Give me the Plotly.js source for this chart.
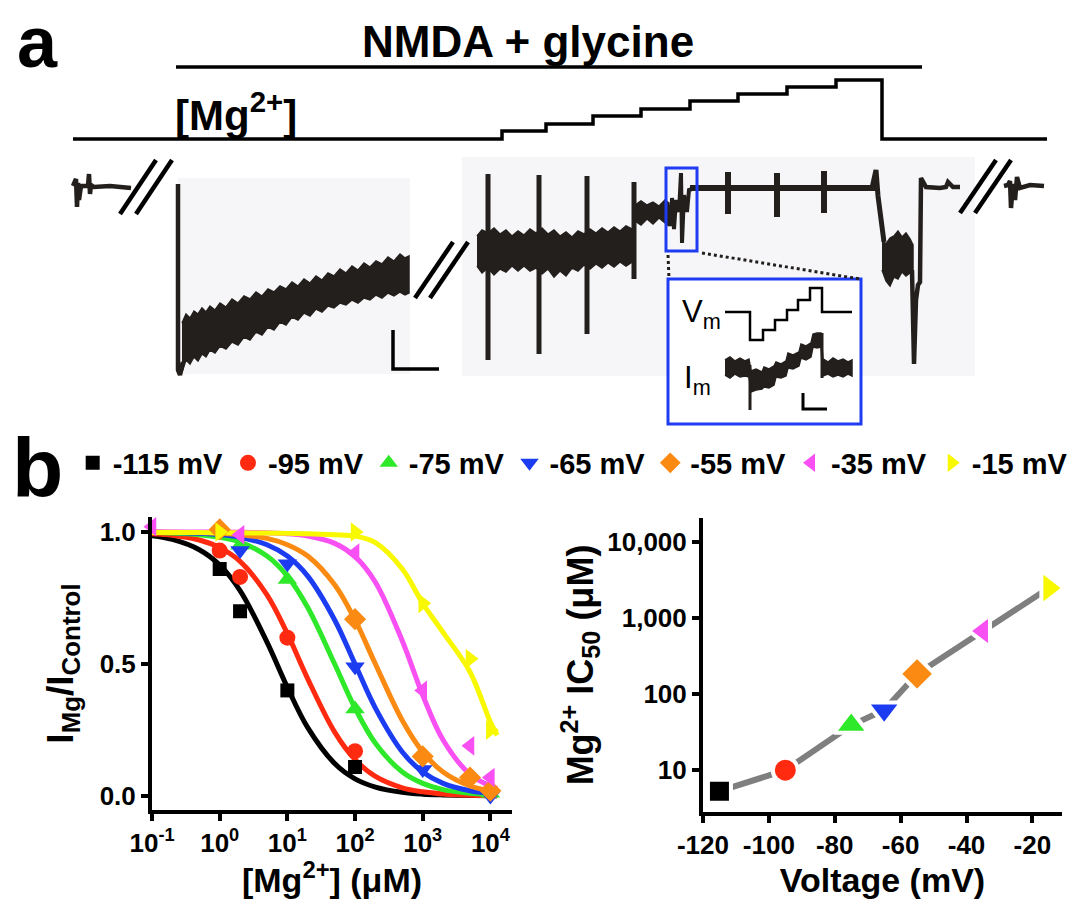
<!DOCTYPE html>
<html><head><meta charset="utf-8">
<script src="https://cdn.plot.ly/plotly-3.0.1.min.js"></script>
<style>html,body{margin:0;padding:0;background:#fff}#chart{width:1069px;height:899px}</style>
</head><body><div id="chart"></div>
<script>
// ---------------- Panel b, left: concentration-response ----------------
const seriesNames = ['-115 mV', '-95 mV', '-75 mV', '-65 mV', '-55 mV', '-35 mV', '-15 mV'];
const seriesColors = ['#000000', '#ff2a10', '#2ee82a', '#1c3cf2', '#fa8a12', '#f850f2', '#f8f800'];
const seriesSymbols = ['square', 'circle', 'triangle-up', 'triangle-down', 'diamond', 'triangle-left', 'triangle-right'];

const concM115 = [1, 2, 10, 100];
const respM115 = [0.86, 0.70, 0.40, 0.11];
const concM95 = [1, 2, 10, 100];
const respM95 = [0.93, 0.83, 0.60, 0.17];
const concM75 = [2, 10, 100, 10000];
const respM75 = [0.95, 0.82, 0.33, 0.01];
const concM65 = [2, 10, 100, 1000, 10000];
const respM65 = [0.93, 0.88, 0.49, 0.10, 0.0];
const concM55 = [1, 100, 1000, 5000, 10000];
const respM55 = [1.01, 0.67, 0.15, 0.07, 0.02];
const concM35 = [0.1, 2, 100, 1000, 5000, 10000];
const respM35 = [1.02, 0.99, 0.92, 0.40, 0.19, 0.07];
const concM15 = [1, 100, 1000, 5000, 10000];
const respM15 = [1.0, 1.0, 0.73, 0.52, 0.25];

const fitConc = [0.1, 0.2, 0.5, 1, 2, 5, 10, 20, 50, 100, 200, 500, 1000, 2000, 5000, 10000, 12600];
const fitM115 = [0.986, 0.972, 0.933, 0.875, 0.778, 0.583, 0.412, 0.259, 0.123, 0.065, 0.034, 0.014, 0.007, 0.004, 0.002, 0.001, 0.001];
const fitM95  = [0.994, 0.988, 0.970, 0.941, 0.889, 0.762, 0.615, 0.444, 0.242, 0.138, 0.074, 0.031, 0.016, 0.008, 0.003, 0.002, 0.001];
const fitM75  = [0.998, 0.996, 0.990, 0.980, 0.962, 0.909, 0.833, 0.714, 0.500, 0.333, 0.200, 0.091, 0.048, 0.024, 0.010, 0.005, 0.004];
const fitM65  = [0.999, 0.998, 0.995, 0.990, 0.980, 0.952, 0.909, 0.833, 0.667, 0.500, 0.333, 0.167, 0.091, 0.048, 0.020, 0.010, 0.008];
const fitM55  = [1.000, 0.999, 0.998, 0.995, 0.990, 0.976, 0.952, 0.909, 0.800, 0.667, 0.500, 0.286, 0.167, 0.091, 0.038, 0.020, 0.016];
const fitM35  = [1.000, 1.000, 1.000, 1.000, 0.999, 0.997, 0.994, 0.985, 0.957, 0.907, 0.810, 0.587, 0.382, 0.212, 0.082, 0.038, 0.029];
const fitM15  = [0.998, 0.998, 0.998, 0.997, 0.997, 0.996, 0.995, 0.994, 0.990, 0.985, 0.960, 0.860, 0.730, 0.620, 0.470, 0.280, 0.230];

const concTickVals = [0.1, 1, 10, 100, 1000, 10000];
const concTickText = ['10<sup>-1</sup>', '10<sup>0</sup>', '10<sup>1</sup>', '10<sup>2</sup>', '10<sup>3</sup>', '10<sup>4</sup>'];
const respTickVals = [0, 0.5, 1];
const respTickText = ['0.0', '0.5', '1.0'];

// ---------------- Panel b, right: IC50 vs voltage ----------------
const voltages = [-115, -95, -75, -65, -55, -35, -15];
const ic50 = [5.3, 10, 39, 62, 185, 680, 2500];
const voltTickVals = [-120, -100, -80, -60, -40, -20];
const voltTickText = ['-120', '-100', '-80', '-60', '-40', '-20'];
const icTickVals = [10, 100, 1000, 10000];
const icTickText = ['10', '100', '1,000', '10,000'];

// ---------------- Panel a: schematic recording (figure units) ----------------
const nmdaBarX = [176, 922];
const nmdaBarY = [67, 67];
const mgStepX = [73, 502, 546, 593, 641, 690, 738, 787, 836, 882, 1047];
const mgStepY = [139, 131, 124, 116, 109, 101, 94, 87, 80, 139, 139];

const preStubX = [73, 76, 77, 78, 79, 81, 88, 89, 90, 91, 94, 110, 131];
const preStubY = [186, 179, 207, 183, 200, 186, 186, 174, 194, 185, 187, 186, 188];
const postStubX = [1004, 1008, 1010, 1011, 1013, 1015, 1017, 1020, 1030, 1044];
const postStubY = [186, 185, 181, 208, 184, 200, 177, 188, 185, 186];

const slashX1 = [120, 156, null, 136, 172];
const slashY1 = [214, 160, null, 214, 160];
const slashX2 = [415, 453, null, 430, 468];
const slashY2 = [298, 242, null, 298, 242];
const slashX3 = [960, 996, null, 975, 1011];
const slashY3 = [213, 160, null, 213, 160];

const dropX = [178, 178, 180, 183];
const dropY = [184, 370, 375, 362];
const band0X = [182,186,190,194,198,202,206,210,215,220,226,232,238,244,250,256,262,268,274,280,286,292,298,304,310,316,322,328,334,340,346,352,358,364,370,376,382,388,394,400,405,409];
const band0Up = [323,314,318,311,314,308,312,306,310,303,307,299,303,296,299,292,296,289,292,286,289,282,286,279,283,276,280,273,276,269,273,266,270,263,267,261,264,257,261,254,258,256];
const band0Lo = [372,360,364,357,361,354,357,350,353,346,349,342,345,337,340,332,335,327,330,322,325,317,320,313,316,309,312,306,308,303,305,300,303,298,300,295,298,293,296,292,295,293];

const band1X = [477,482,488,494,500,506,512,518,524,530,536,542,548,554,560,566,572,578,584,590,596,602,608,614,620,626,632];
const band1Up = [236,230,233,228,234,230,236,231,235,229,233,228,234,230,236,232,237,231,234,229,233,228,232,227,231,226,229];
const band1Lo = [266,273,268,275,269,272,266,271,266,271,268,274,269,277,271,276,268,271,265,269,264,268,263,267,262,266,262];
const band2X = [635, 641, 647, 653, 659, 665, 669];
const band2Up = [205, 201, 205, 202, 206, 200, 203];
const band2Lo = [221, 225, 219, 224, 218, 223, 226];
const bigSpikeX = [488, 539, 587, 634];
const bigSpikeTop = [174, 175, 176, 182];
const bigSpikeBottom = [360, 354, 334, 279];
const boxTraceX = [668, 671, 672, 674, 676, 679, 681, 682, 684, 687, 689, 692, 700];
const boxTraceY = [205, 226, 198, 229, 200, 212, 173, 243, 195, 212, 190, 189, 188];
const flatX = [690, 877];
const flatY = [188, 188];
const smallSpikeX = [728, 777, 824];
const smallSpikeTop = [172, 173, 171];
const smallSpikeBottom = [214, 217, 213];
const washX = [872, 876, 878, 882, 884];
const washY = [188, 170, 196, 232, 242];
const band3X = [882, 886, 890, 894, 898, 902, 906, 910, 913];
const band3Up = [240, 244, 238, 236, 231, 237, 233, 239, 245];
const band3Lo = [270, 281, 286, 277, 279, 272, 276, 273, 272];
const recoverX = [912, 914, 916, 918, 920, 921, 926, 940, 946, 948, 950, 953, 960];
const recoverY = [270, 364, 300, 285, 282, 178, 187, 188, 187, 182, 184, 187, 187];

const vmX = [725, 750, 763, 775, 787, 798, 810, 822, 852];
const vmY = [312, 340, 330, 320, 310, 300, 288, 312, 312];
const imX = [725,730,735,740,745,749,751,756,762,764,769,774,776,781,786,788,793,799,801,806,811,813,817,821,823,828,833,838,843,848,852];
const imUp = [360,357,361,358,361,359,371,369,372,367,369,366,362,364,361,353,355,352,344,346,343,334,333,333,359,362,358,361,359,362,360];
const imLo = [375,378,374,377,376,377,392,390,389,387,388,385,377,378,376,368,369,366,358,360,357,347,348,347,376,374,377,375,377,374,376];
const imSpikeX = [750, 750, null, 822, 822];
const imSpikeY = [365, 410, null, 333, 378];

// ---------------- build traces ----------------
const TR = '#231f1c';
const FONT = 'Liberation Sans, Arial, Helvetica, sans-serif';
const traces = [];

function aLine(x, y, w, color, shape) {
  traces.push({type: 'scatter', mode: 'lines', x: x, y: y, xaxis: 'x3', yaxis: 'y3',
    line: {color: color || TR, width: w, shape: shape || 'linear'}, hoverinfo: 'skip', showlegend: false, connectgaps: false});
}
function aBand(x, up, lo) {
  traces.push({type: 'scatter', mode: 'lines', x: x.concat(x.slice().reverse()), y: up.concat(lo.slice().reverse()),
    xaxis: 'x3', yaxis: 'y3', fill: 'toself', fillcolor: TR, line: {color: TR, width: 1.5}, hoverinfo: 'skip', showlegend: false});
}
function aSegs(xs, tops, bottoms, w) {
  const x = [], y = [];
  xs.forEach((v, i) => { x.push(v, v, null); y.push(tops[i], bottoms[i], null); });
  aLine(x, y, w);
}

aLine(nmdaBarX, nmdaBarY, 3.5, '#000');
aLine(mgStepX, mgStepY, 3.5, '#000', 'hv');
aLine(preStubX, preStubY, 4.5);
aLine(postStubX, postStubY, 4.5);
aLine(slashX1, slashY1, 4.5, '#000');
aLine(slashX2, slashY2, 4.5, '#000');
aLine(slashX3, slashY3, 4.5, '#000');
aLine(dropX, dropY, 4.5);
aBand(band0X, band0Up, band0Lo);
aBand(band1X, band1Up, band1Lo);
aBand(band2X, band2Up, band2Lo);
aSegs(bigSpikeX, bigSpikeTop, bigSpikeBottom, 5);
aLine(boxTraceX, boxTraceY, 4);
aLine(flatX, flatY, 6);
aSegs(smallSpikeX, smallSpikeTop, smallSpikeBottom, 6);
aLine(washX, washY, 5);
aBand(band3X, band3Up, band3Lo);
aLine(recoverX, recoverY, 4.5);
aLine(vmX, vmY, 2.5, '#000', 'hv');
aBand(imX, imUp, imLo);
aLine(imSpikeX, imSpikeY, 3);

// fitted curves
const fits = [fitM115, fitM95, fitM75, fitM65, fitM55, fitM35, fitM15];
fits.forEach((f, i) => {
  traces.push({type: 'scatter', mode: 'lines', x: fitConc, y: f, xaxis: 'x', yaxis: 'y',
    line: {color: seriesColors[i], width: 5, shape: 'spline', smoothing: 1}, hoverinfo: 'skip', showlegend: false});
});
// data points (also legend)
const concs = [concM115, concM95, concM75, concM65, concM55, concM35, concM15];
const resps = [respM115, respM95, respM75, respM65, respM55, respM35, respM15];
const ptSizes = [14, 16, 17, 17, 17, 17, 17];
concs.forEach((c, i) => {
  traces.push({type: 'scatter', mode: 'markers', name: seriesNames[i], x: c, y: resps[i], xaxis: 'x', yaxis: 'y',
    cliponaxis: false, marker: {color: seriesColors[i], symbol: seriesSymbols[i], size: ptSizes[i], opacity: 1}, showlegend: true});
});
// IC50 line + markers
traces.push({type: 'scatter', mode: 'lines', x: voltages, y: ic50, xaxis: 'x2', yaxis: 'y2',
  line: {color: '#7f7f7f', width: 6}, hoverinfo: 'skip', showlegend: false});
traces.push({type: 'scatter', mode: 'markers', x: voltages, y: ic50, xaxis: 'x2', yaxis: 'y2', cliponaxis: false,
  marker: {color: seriesColors, symbol: seriesSymbols, size: [23, 25, 30, 30, 27, 28, 30], opacity: 1,
    line: {color: '#ffffff', width: 4}},
  showlegend: false});

// ---------------- layout ----------------
const axisCommon = {
  showline: true, linewidth: 4, linecolor: '#000', ticks: 'outside', ticklen: 7, tickwidth: 4, tickcolor: '#000',
  showgrid: false, zeroline: false, tickfont: {family: FONT, size: 26, weight: 'bold', color: '#000'}, fixedrange: true
};
const layout = {
  width: 1069, height: 899, margin: {l: 0, r: 0, t: 0, b: 0, autoexpand: false},
  paper_bgcolor: '#ffffff', plot_bgcolor: 'rgba(0,0,0,0)',
  font: {family: FONT, color: '#000'},
  showlegend: true,
  legend: {orientation: 'h', x: 0.068, xanchor: 'left', y: 0.485, yanchor: 'middle',
    font: {family: FONT, size: 29, weight: 'bold', color: '#000'}, itemwidth: 30, bgcolor: 'rgba(0,0,0,0)', traceorder: 'normal'},
  xaxis: Object.assign({}, axisCommon, {domain: [0.1422, 0.479], type: 'log', range: [-1, 4.32], anchor: 'y',
    tickmode: 'array', tickvals: concTickVals, ticktext: concTickText,
    title: {text: '[Mg<sup>2+</sup>] (μM)', font: {family: FONT, size: 34, weight: 'bold'}, standoff: 2}}),
  yaxis: Object.assign({}, axisCommon, {domain: [0.099, 0.4249], range: [-0.053, 1.057], anchor: 'x',
    tickmode: 'array', tickvals: respTickVals, ticktext: respTickText,
    title: {text: 'I<sub>Mg</sub>/I<sub>Control</sub>', font: {family: FONT, size: 37, weight: 'bold'}, standoff: 16}}),
  xaxis2: Object.assign({}, axisCommon, {domain: [0.6576, 0.9935], range: [-120, -11], anchor: 'y2',
    tickmode: 'array', tickvals: voltTickVals, ticktext: voltTickText,
    title: {text: 'Voltage (mV)', font: {family: FONT, size: 34, weight: 'bold'}, standoff: 12}}),
  yaxis2: Object.assign({}, axisCommon, {domain: [0.0968, 0.4238], type: 'log', range: [0.45, 4.32], anchor: 'x2',
    tickmode: 'array', tickvals: icTickVals, ticktext: icTickText,
    title: {text: 'Mg<sup>2+</sup> IC<sub>50</sub> (μM)', font: {family: FONT, size: 36, weight: 'bold'}, standoff: 4}}),
  xaxis3: {domain: [0, 1], range: [0, 1069], visible: false, anchor: 'y3', fixedrange: true},
  yaxis3: {domain: [0, 1], range: [899, 0], visible: false, anchor: 'x3', fixedrange: true},
  shapes: [
    {type: 'rect', xref: 'x3', yref: 'y3', x0: 178, x1: 410, y0: 178, y1: 374, fillcolor: '#f6f6f9', line: {width: 0}, layer: 'below'},
    {type: 'rect', xref: 'x3', yref: 'y3', x0: 462, x1: 975, y0: 157, y1: 376, fillcolor: '#f6f6f9', line: {width: 0}, layer: 'below'},
    {type: 'rect', xref: 'x3', yref: 'y3', x0: 668, x1: 861, y0: 279, y1: 424, fillcolor: '#ffffff', line: {color: '#1f3cf2', width: 3}, layer: 'below'},
    {type: 'rect', xref: 'x3', yref: 'y3', x0: 666, x1: 697, y0: 168, y1: 251, line: {color: '#1f3cf2', width: 3}},
    {type: 'line', xref: 'x3', yref: 'y3', x0: 668, x1: 669, y0: 255, y1: 279, line: {color: TR, width: 3, dash: 'dot'}},
    {type: 'line', xref: 'x3', yref: 'y3', x0: 702, x1: 860, y0: 253, y1: 279, line: {color: TR, width: 3, dash: 'dot'}},
    {type: 'path', xref: 'x3', yref: 'y3', path: 'M 393 330 L 393 369 L 439 369', line: {color: '#000', width: 3.5}},
    {type: 'path', xref: 'x3', yref: 'y3', path: 'M 803 393 L 803 409 L 827 409', line: {color: '#000', width: 3}}
  ],
  annotations: [
    {text: 'a', x: 37, y: 0, xref: 'x3', yref: 'y3', yanchor: 'top', showarrow: false, font: {size: 72, weight: 'bold', family: FONT}},
    {text: 'NMDA + glycine', x: 528, y: 41, xref: 'x3', yref: 'y3', showarrow: false, font: {size: 44, weight: 'bold', family: FONT}},
    {text: '[Mg<sup>2+</sup>]', x: 236, y: 112, xref: 'x3', yref: 'y3', showarrow: false, font: {size: 42, weight: 'bold', family: FONT}},
    {text: 'b', x: 37, y: 468, xref: 'x3', yref: 'y3', showarrow: false, font: {size: 84, weight: 'bold', family: FONT}},
    {text: 'V<sub>m</sub>', x: 701, y: 314, xref: 'x3', yref: 'y3', showarrow: false, font: {size: 31, family: FONT}},
    {text: 'I<sub>m</sub>', x: 697, y: 380, xref: 'x3', yref: 'y3', showarrow: false, font: {size: 31, family: FONT}}
  ]
};

Plotly.newPlot('chart', traces, layout, {displayModeBar: false, staticPlot: true});
</script></body></html>
